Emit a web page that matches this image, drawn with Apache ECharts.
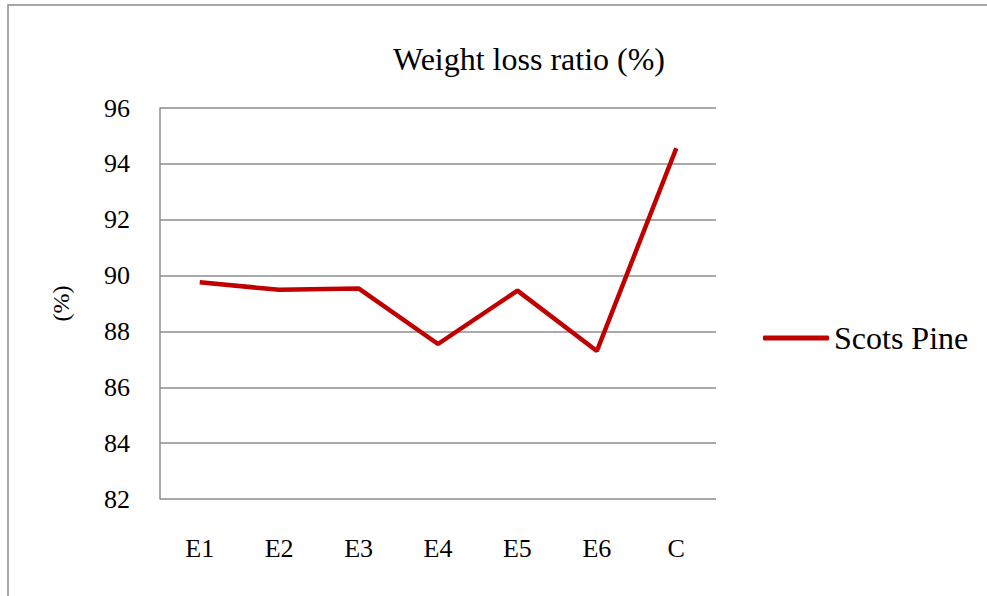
<!DOCTYPE html>
<html>
<head>
<meta charset="utf-8">
<script src="https://cdn.jsdelivr.net/npm/echarts@6/dist/echarts.min.js"></script>
<style>
  html, body { margin: 0; padding: 0; background: #ffffff; }
  #chart { width: 987px; height: 596px; }
</style>
</head>
<body>
<div id="chart"></div>
<script>
// Treatments along the x axis
const categories = ['E1', 'E2', 'E3', 'E4', 'E5', 'E6', 'C'];
// Weight loss ratio (%) for Scots Pine
const scotsPine = [89.76, 89.49, 89.54, 87.55, 89.46, 87.3, 94.56];
// Y axis scale
const yMin = 82;
const yMax = 96;
const yStep = 2;

const serif = '"Liberation Serif", "Times New Roman", serif';
const chart = echarts.init(document.getElementById('chart'), null, { renderer: 'svg' });

chart.setOption({
  backgroundColor: '#ffffff',
  animation: false,
  graphic: [{
    type: 'rect',
    shape: { x: 8, y: 5, width: 1000, height: 620 },
    style: { fill: 'none', stroke: '#8c8c8c', lineWidth: 1.5 },
    silent: true
  }],
  title: {
    text: 'Weight loss ratio (%)',
    left: 529,
    top: 43,
    padding: 0,
    textAlign: 'center',
    textStyle: { fontFamily: serif, fontSize: 32, fontWeight: 'normal', color: '#000000' }
  },
  legend: {
    left: 763,
    top: 322,
    padding: 0,
    itemWidth: 66,
    itemHeight: 5,
    icon: 'roundRect',
    textStyle: { fontFamily: serif, fontSize: 32, color: '#000000' },
    data: ['Scots Pine']
  },
  grid: { left: 160, right: 271, top: 108, bottom: 97 },
  xAxis: {
    type: 'category',
    data: categories,
    boundaryGap: true,
    axisLine: { show: false },
    axisTick: { show: false },
    axisLabel: { margin: 36, fontFamily: serif, fontSize: 26, color: '#000000' }
  },
  yAxis: {
    type: 'value',
    min: yMin,
    max: yMax,
    interval: yStep,
    name: '(%)',
    nameLocation: 'middle',
    nameGap: 87,
    nameRotate: 90,
    nameTextStyle: { fontFamily: serif, fontSize: 24, color: '#000000' },
    axisLine: { show: true, lineStyle: { color: '#8c8c8c', width: 1.5 } },
    axisTick: { show: false },
    axisLabel: { margin: 30, fontFamily: serif, fontSize: 26, color: '#000000' },
    splitLine: { lineStyle: { color: '#8c8c8c', width: 1.5 } }
  },
  series: [{
    name: 'Scots Pine',
    type: 'line',
    data: scotsPine,
    symbol: 'none',
    lineStyle: { color: '#c00000', width: 4.5 },
    itemStyle: { color: '#c00000' }
  }]
});
</script>
</body>
</html>
